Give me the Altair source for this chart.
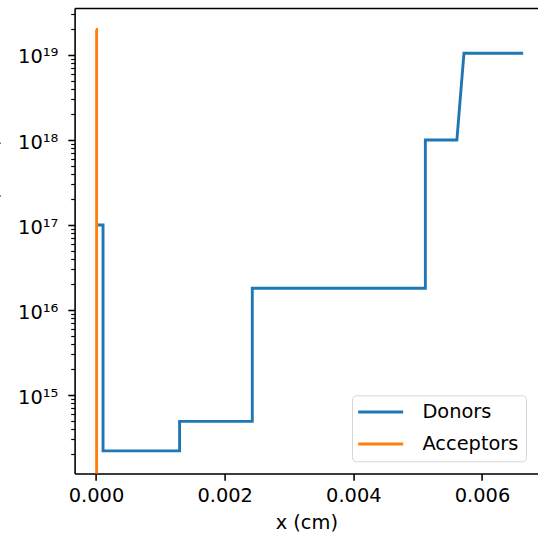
import altair as alt
import pandas as pd

# Doping profile: piecewise-constant donor and acceptor concentrations vs depth
donor_x = [0.0, 0.00011, 0.00011, 0.00130, 0.00130, 0.00243, 0.00243,
           0.00512, 0.00512, 0.00561, 0.00572, 0.00664]
donor_n = [1e17, 1e17, 2.2e14, 2.2e14, 4.9e14, 4.9e14, 1.8e16, 1.8e16,
           1e18, 1e18, 1.05e19, 1.05e19]

acceptor_x = [0.0, 0.00001, 0.00001]
acceptor_n = [2e19, 2e19, 0.0]

series_names = ["Donors", "Acceptors"]
series_colors = ["#1f77b4", "#ff7f0e"]

x_ticks = [0.0, 0.002, 0.004, 0.006]
y_major = [1e15, 1e16, 1e17, 1e18, 1e19]
y_minor = [k * 10.0 ** e for e in range(14, 20) for k in range(2, 10)
           if 1.2e14 < k * 10.0 ** e < 3.5e19]
y_labels = ["10\u00b9\u2075", "10\u00b9\u2076", "10\u00b9\u2077", "10\u00b9\u2078", "10\u00b9\u2079"]

# log axis cannot show zero: push non-positive values far below the axis
FLOOR = 1e10
rows = []
for name, xs, ns in [("Donors", donor_x, donor_n), ("Acceptors", acceptor_x, acceptor_n)]:
    for i, (xv, nv) in enumerate(zip(xs, ns)):
        rows.append({"x": xv, "n": nv if nv > 0 else FLOOR, "series": name, "i": i})
df = pd.DataFrame(rows)

FONT = "DejaVu Sans"
FS = 19.4

x_scale = alt.Scale(domain=[-0.000332, 0.006871], nice=False, zero=False)
y_scale = alt.Scale(type="log", domain=[1.193e14, 3.572e19], nice=False)

major_test = "indexof([" + ",".join(repr(v) for v in y_major) + "], datum.value) >= 0"
label_expr = " : ".join(
    f"datum.value == {v!r} ? '{lab}'" for v, lab in zip(y_major, y_labels)
) + " : ''"

x_axis = alt.Axis(
    values=x_ticks, format=".3f", title="x (cm)", grid=False,
    tickSize=6.8, tickWidth=1.56, tickColor="black",
    domainColor="black", domainWidth=1.56,
    labelFont=FONT, labelFontSize=FS, labelColor="black", labelPadding=6,
    titleFont=FONT, titleFontSize=FS, titleFontWeight="normal",
    titleColor="black", titlePadding=9,
)
top_axis = alt.Axis(
    orient="top", labels=False, ticks=False, title=None, grid=False,
    domainColor="black", domainWidth=1.56,
)
y_axis = alt.Axis(
    values=y_major + y_minor, labelExpr=label_expr, grid=False,
    title="Concentration (cm\u207b\u00b3)",
    tickSize={"condition": {"test": major_test, "value": 6.8}, "value": 3.9},
    tickWidth={"condition": {"test": major_test, "value": 1.56}, "value": 1.17},
    tickColor="black", domainColor="black", domainWidth=1.56,
    labelFont=FONT, labelFontSize=FS, labelColor="black", labelPadding=10,
    labelOffset=2,
    titleFont=FONT, titleFontSize=FS, titleFontWeight="normal",
    titleColor="black", titlePadding=16,
)

color = alt.Color(
    "series:N",
    scale=alt.Scale(domain=series_names, range=series_colors),
    legend=alt.Legend(
        title=None, orient="none", legendX=277.4, legendY=387.3,
        symbolType="M-1.4,0H4.6", symbolSize=225, symbolStrokeWidth=2.9,
        labelFont=FONT, labelFontSize=FS, labelColor="black",
        labelOffset=44, rowPadding=11, padding=7,
        strokeColor="#d6d6d6", fillColor="white", cornerRadius=4,
    ),
)

base = alt.Chart(df)

donors = base.transform_filter(alt.datum.series == "Donors").mark_line(
    clip=True, strokeWidth=2.9
).encode(
    x=alt.X("x:Q", scale=x_scale, axis=x_axis),
    y=alt.Y("n:Q", scale=y_scale, axis=y_axis),
    color=color,
    order="i:Q",
)

acceptors = base.transform_filter(alt.datum.series == "Acceptors").mark_line(
    clip=True, strokeWidth=2.9
).encode(
    x=alt.X("x:Q", scale=x_scale, axis=top_axis),
    y=alt.Y("n:Q", scale=y_scale),
    color=color,
    order="i:Q",
)

chart = (
    alt.layer(donors, acceptors)
    .resolve_axis(x="independent")
    .properties(
        width=463.4, height=465.5,
        autosize=alt.AutoSizeParams(type="none"),
        padding={"left": 74.6, "top": 8, "right": 0, "bottom": 66.5},
    )
    .configure_view(stroke=None)
    .configure(background="white")
)

chart.save("out.html", embed_options={"renderer": "svg", "actions": False})
